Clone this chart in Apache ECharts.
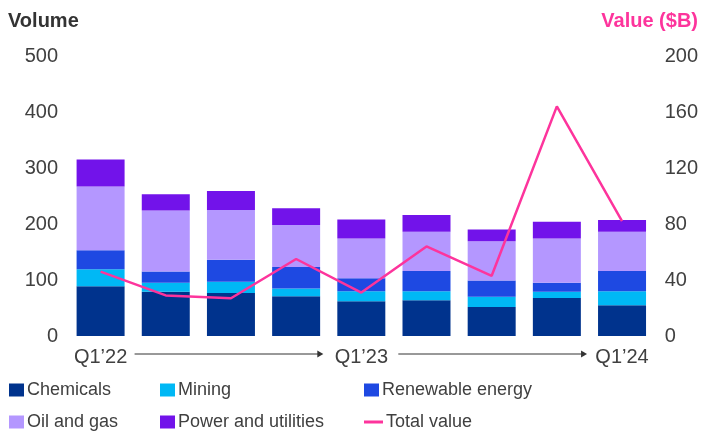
<!DOCTYPE html>
<html>
<head>
<meta charset="utf-8">
<script src="https://cdn.jsdelivr.net/npm/echarts@6/dist/echarts.min.js"></script>
<style>html,body{margin:0;padding:0;background:#fff;}#chart{width:701px;height:431px;}</style>
</head>
<body>
<div id="chart"></div>
<script>
var categories = ['Q1’22','Q2’22','Q3’22','Q4’22','Q1’23','Q2’23','Q3’23','Q4’23','Q1’24'];
var chemicals = [89, 79, 77, 71, 62, 64, 52, 68, 55];
var mining = [30, 16, 20, 14, 18, 16, 18, 11, 25];
var renewable = [34, 20, 39, 38, 23, 36, 29, 16, 36];
var oilGas = [114, 109, 89, 75, 71, 70, 70, 79, 70];
var power = [48, 29, 34, 30, 34, 30, 21, 30, 21];
var totalValue = [46, 29, 27, 55, 31, 64, 43, 164, 82];
var volumeTicks = [0, 100, 200, 300, 400, 500];
var valueTicks = [0, 40, 80, 120, 160, 200];

var FONT = '"Liberation Sans", Arial, Helvetica, sans-serif';
var TXT = '#404040';
var colors = {
  chem: '#00338D', mining: '#00B8F5', renew: '#1E49E2',
  oil: '#B497FF', power: '#7213EA', line: '#FD349C'
};

var chart = echarts.init(document.getElementById('chart'), null, {renderer: 'canvas'});

function legendItem(name, left, top, icon, w, h) {
  return {
    data: [{name: name, icon: icon}],
    left: left, top: top, padding: 0,
    itemWidth: w, itemHeight: h,
    selectedMode: false,
    textStyle: {fontFamily: FONT, fontSize: 18, color: TXT, padding: [0,0,0,-2]}
  };
}

function barSeries(name, data, color) {
  return {
    name: name, type: 'bar', stack: 'vol', data: data,
    barWidth: 48, itemStyle: {color: color}, yAxisIndex: 0,
    emphasis: {disabled: true}
  };
}

var option = {
  animation: false,
  textStyle: {fontFamily: FONT},
  title: [
    {text: 'Volume', left: 8, top: 11, padding: 0,
     textStyle: {fontFamily: FONT, fontSize: 20, fontWeight: 'bold', color: '#333'}},
    {text: 'Value ($B)', right: 3, top: 11, padding: 0,
     textStyle: {fontFamily: FONT, fontSize: 20, fontWeight: 'bold', color: colors.line}}
  ],
  grid: {left: 68, right: 44, top: 56, bottom: 95, containLabel: false},
  legend: [
    legendItem('Chemicals', 9, 381, 'rect', 15, 13),
    legendItem('Mining', 160, 381, 'rect', 15, 13),
    legendItem('Renewable energy', 364, 381, 'rect', 15, 13),
    legendItem('Oil and gas', 9, 413, 'rect', 15, 13),
    legendItem('Power and utilities', 160, 413, 'rect', 15, 13),
    legendItem('Total value', 364, 413, 'rect', 19, 3)
  ],
  xAxis: {
    type: 'category', data: categories,
    axisLine: {show: false}, axisTick: {show: false},
    axisLabel: {interval: 3, margin: 11, fontFamily: FONT, fontSize: 20, color: TXT}
  },
  yAxis: [
    {type: 'value', min: volumeTicks[0], max: volumeTicks[volumeTicks.length-1], interval: volumeTicks[1]-volumeTicks[0],
     splitLine: {show: false}, axisLine: {show: false}, axisTick: {show: false},
     axisLabel: {margin: 10, padding: [4,0,0,0], fontFamily: FONT, fontSize: 20, color: TXT}},
    {type: 'value', min: valueTicks[0], max: valueTicks[valueTicks.length-1], interval: valueTicks[1]-valueTicks[0],
     splitLine: {show: false}, axisLine: {show: false}, axisTick: {show: false},
     axisLabel: {margin: 10, padding: [4,0,0,0], fontFamily: FONT, fontSize: 20, color: TXT}}
  ],
  series: [
    barSeries('Chemicals', chemicals, colors.chem),
    barSeries('Mining', mining, colors.mining),
    barSeries('Renewable energy', renewable, colors.renew),
    barSeries('Oil and gas', oilGas, colors.oil),
    barSeries('Power and utilities', power, colors.power),
    {name: 'Total value', type: 'line', yAxisIndex: 1, data: totalValue,
     showSymbol: false, symbol: 'none', lineStyle: {color: colors.line, width: 2.5},
     itemStyle: {color: colors.line}, emphasis: {disabled: true}, z: 5}
  ]
};
chart.setOption(option);

// timeline arrows between the labelled quarters
function arrow(fromIdx, toIdx, startOff, endOff) {
  var p0 = chart.convertToPixel({xAxisIndex: 0, yAxisIndex: 0}, [fromIdx, 0]);
  var p1 = chart.convertToPixel({xAxisIndex: 0, yAxisIndex: 0}, [toIdx, 0]);
  var y = p0[1] + 18;
  var x0 = p0[0] + startOff, x1 = p1[0] - endOff;
  return [
    {type: 'line', shape: {x1: x0, y1: y, x2: x1 - 5, y2: y}, style: {stroke: '#333', lineWidth: 1}, silent: true},
    {type: 'polygon', shape: {points: [[x1 - 6, y - 3.5], [x1, y], [x1 - 6, y + 3.5]]}, style: {fill: '#333'}, silent: true}
  ];
}
chart.setOption({graphic: [].concat(arrow(0, 4, 34, 38), arrow(4, 8, 37, 35))});
</script>
</body>
</html>
